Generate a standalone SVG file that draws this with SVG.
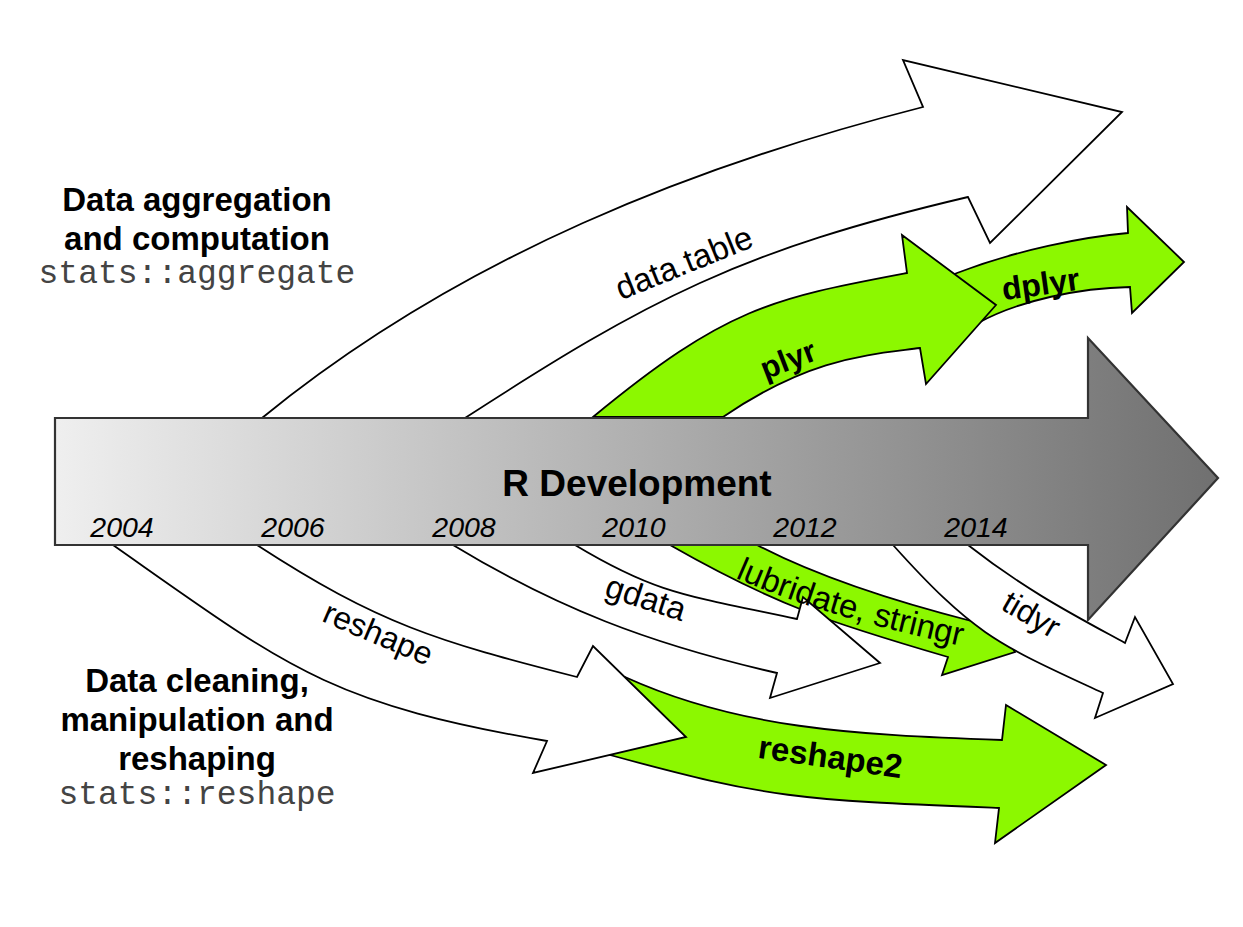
<svg xmlns="http://www.w3.org/2000/svg" width="1243" height="927" viewBox="0 0 1243 927">
<defs>
<linearGradient id="barGrad" gradientUnits="userSpaceOnUse" x1="55" y1="0" x2="1218" y2="0">
<stop offset="0" stop-color="#efefef"/>
<stop offset="1" stop-color="#707070"/>
</linearGradient>
<path id="lubPath" d="M690,556 C790,608 880,628 1010,657"/>
<style>
.w{fill:#ffffff;stroke:#000;stroke-width:1.8;stroke-linejoin:miter}
.g{fill:#8cf800;stroke:#000;stroke-width:1.8;stroke-linejoin:miter}
.bar{fill:url(#barGrad);stroke:#333;stroke-width:2.2;stroke-linejoin:miter}
.h{font-family:"Liberation Sans",Arial,sans-serif;font-weight:bold;font-size:33px;text-anchor:middle;fill:#000}
.m{font-family:"Liberation Mono","Courier New",monospace;font-size:33px;text-anchor:middle;fill:#444}
.lbl{font-family:"Liberation Sans",Arial,sans-serif;font-size:32px;text-anchor:middle;fill:#000}
.b{font-weight:bold}
.yr{font-family:"Liberation Sans",Arial,sans-serif;font-style:italic;font-size:28.5px;text-anchor:middle;fill:#000}
.title{font-family:"Liberation Sans",Arial,sans-serif;font-weight:bold;font-size:37px;text-anchor:middle;fill:#000}
</style>
</defs>
<rect x="0" y="0" width="1243" height="927" fill="#ffffff"/>

<g id="arrow-datatable">
<path class="w" d="M262,418 C461.5,255.25 698,164.5 923,107 L903,60 L1122,112 L990,243 L968,197 C740.2,250.6 648.8,299.1 465,418 Z"/>
</g>
<g id="arrow-dplyr">
<path class="g" d="M945,278 L957,273 C1017,250 1083,237 1128,233 L1127,207 L1184,262 L1132,313 L1130,287 C1080,288 1020,300 978,323 L965,331 Z"/>
</g>
<g id="arrow-plyr">
<path class="g" d="M593,417 C727.2,306.3 772.7,298.4 907,273 L902,235 L996,305 L926,384 L920,348 C868,355 811,357 723,417 Z"/>
</g>
<g id="arrow-lubridate">
<path class="g" d="M670,545 C776.4,605.8 830.9,622.8 948,657 L942,675 L1015,652 L982,603 L975,622 C900,603 820,578 757,545 Z"/>
</g>
<g id="arrow-gdata">
<path class="w" d="M453,545 C555.7,607.2 647.6,643.5 777,673 L770,698 L880,663 L803,597 L797,619 C683,595 655,593 575,545 Z"/>
</g>
<g id="arrow-tidyr">
<path class="w" d="M893,545 C975.4,636.6 999.2,644.7 1103,693 L1095,718 L1173,684 L1135,617 L1125,643 C1074.6,615.4 1026.8,591 968,545 Z"/>
</g>
<g id="arrow-reshape2">
<path class="g" d="M600,690 L625,677 C737,728 852,735 1002,740 L1006,705 L1106,765 L995,843 L999,808 C798.3,799.8 772,799.2 610,755 L598,750 Z"/>
</g>
<g id="arrow-reshape">
<path class="w" d="M113,545 C288,668 327,703 547,741 L533,773 L686,737 L593,646 L577,677 C436.6,641.1 378.8,624.2 257,545 Z"/>
</g>
<g id="r-development">
<path class="bar" d="M55,418 L1088,418 L1088,338 L1218,478 L1088,620 L1088,545 L55,545 Z"/>
<text class="title" x="637" y="496">R Development</text>
<text class="yr" x="122" y="537">2004</text>
<text class="yr" x="293" y="537">2006</text>
<text class="yr" x="464" y="537">2008</text>
<text class="yr" x="634" y="537">2010</text>
<text class="yr" x="805" y="537">2012</text>
<text class="yr" x="976" y="537">2014</text>
</g>

<g id="labels">
<text id="lbl-datatable" class="lbl" transform="translate(684,263) rotate(-22)" y="11" style="font-size:33px">data.table</text>
<text id="lbl-plyr" class="lbl b" transform="translate(789,362) rotate(-21)" y="8" style="font-size:31px">plyr</text>
<text id="lbl-dplyr" class="lbl b" transform="translate(1041,287) rotate(-8)" y="8">dplyr</text>
<text id="lbl-reshape" class="lbl" transform="translate(377,636) rotate(23)" y="8">reshape</text>
<text id="lbl-gdata" class="lbl" transform="translate(645,601) rotate(18)" y="8" style="font-size:33px">gdata</text>
<text id="lbl-lubridate" class="lbl" style="font-size:33px"><textPath href="#lubPath" startOffset="50%">lubridate, stringr</textPath></text>
<text id="lbl-tidyr" class="lbl" transform="translate(1030,617) rotate(30)" y="8">tidyr</text>
<text id="lbl-reshape2" class="lbl b" transform="translate(830,760) rotate(8)" y="8" style="font-size:33px">reshape2</text>
</g>

<g id="group-aggregation">
<text class="h" x="197" y="211">Data aggregation</text>
<text class="h" x="197" y="250">and computation</text>
<text class="m" x="197" y="283">stats::aggregate</text>
</g>
<g id="group-cleaning">
<text class="h" x="197" y="692">Data cleaning,</text>
<text class="h" x="197" y="731">manipulation and</text>
<text class="h" x="197" y="770">reshaping</text>
<text class="m" x="197" y="804">stats::reshape</text>
</g>
</svg>
